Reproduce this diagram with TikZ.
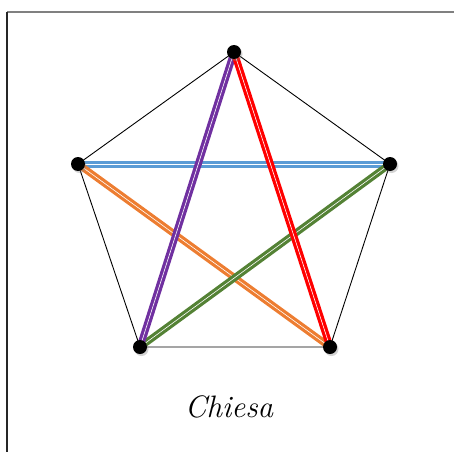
\documentclass[tikz,border=0pt]{standalone}
\usetikzlibrary{shadows}
\definecolor{cblue}{HTML}{5B9BD5}
\definecolor{corange}{HTML}{ED7D31}
\definecolor{cpurple}{HTML}{7030A0}
\definecolor{cred}{HTML}{FF0000}
\definecolor{cgreen}{HTML}{548235}
\tikzset{
    vertex/.style={circle, fill=black, inner sep=0pt, minimum size=14pt,
        drop shadow={shadow xshift=1.5pt, shadow yshift=-2pt, opacity=0.35}},
    side/.style={black, line width=0.9pt},
    diag/.style={draw=#1, double=white, line width=3.2pt, double distance=0.6pt}
}
\begin{document}
\begin{tikzpicture}[x=1pt, y=-1pt]
    \useasboundingbox (0,0) rectangle (454,452);
    % frame
    \draw[gray, line width=1.2pt] (7,12) -- (454,12);
    \draw[black!85, line width=1.2pt] (7,12) -- (7,452);
    % the five points
    \coordinate (t) at (234,52);
    \coordinate (l) at (78,164);
    \coordinate (r) at (390,164);
    \coordinate (bl) at (140,347);
    \coordinate (br) at (330,347);
    % pentagon
    \draw[side] (t) -- (r) -- (br) -- (bl) -- (l) -- cycle;
    % star
    \draw[diag=cblue] (l) -- (r);
    \draw[diag=corange] (l) -- (br);
    \draw[diag=cgreen] (r) -- (bl);
    \draw[diag=cpurple] (t) -- (bl);
    \draw[diag=cred] (t) -- (br);
    \foreach \p in {t,l,r,bl,br}
        \node[vertex] (v\p) at (\p) {};
    \node (label) at (229,407) {\fontsize{31}{36}\selectfont\itshape Chiesa};
\end{tikzpicture}
\end{document}
